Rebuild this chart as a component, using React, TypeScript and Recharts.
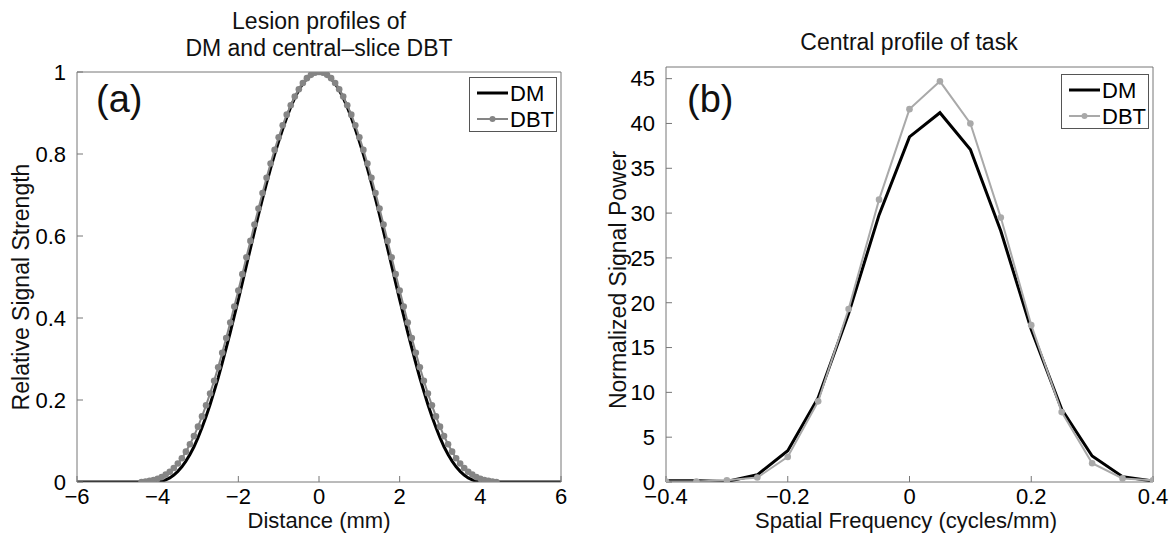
import { LineChart, Line, XAxis, YAxis, Legend } from 'recharts'

const W = 1169
const H = 533
const FONT = '"Liberation Sans", Arial, Helvetica, sans-serif'
const TEXT_SIZE = 23
const TICK_SIZE = 22
const AXIS = '#777'
const BLACK = '#000'
const GRAY_A = '#858585'
const GRAY_B = '#a9a9a9'

// (a) lesion profiles, sampled every 0.1 mm
const STEP_MM = 0.1
const DM_START = -6
const DM_PROFILE = [
  0, 0, 0, 0, 0, 0, 0, 0, 0, 0,
  0, 0, 0, 0, 0, 0, 0, 0, 0, 0,
  0.001, 0.002, 0.005, 0.01, 0.017, 0.026, 0.037, 0.051, 0.067, 0.086,
  0.108, 0.133, 0.16, 0.189, 0.221, 0.254, 0.29, 0.327, 0.365, 0.405,
  0.445, 0.486, 0.528, 0.57, 0.611, 0.652, 0.691, 0.729, 0.765, 0.799,
  0.831, 0.861, 0.889, 0.915, 0.937, 0.956, 0.972, 0.984, 0.993, 0.998,
  1.0,
  0.998, 0.993, 0.984, 0.972, 0.956, 0.937, 0.915, 0.889, 0.861, 0.831,
  0.799, 0.765, 0.729, 0.691, 0.652, 0.611, 0.57, 0.528, 0.486, 0.445,
  0.405, 0.365, 0.327, 0.29, 0.254, 0.221, 0.189, 0.16, 0.133, 0.108,
  0.086, 0.067, 0.051, 0.037, 0.026, 0.017, 0.01, 0.005, 0.002, 0.001,
  0, 0, 0, 0, 0, 0, 0, 0, 0, 0,
  0, 0, 0, 0, 0, 0, 0, 0, 0, 0,
]
const DBT_START = -4.4
const DBT_PROFILE = [
  0, 0.001, 0.003, 0.005, 0.008, 0.012, 0.018, 0.025, 0.034, 0.045,
  0.058, 0.074, 0.092, 0.112, 0.135, 0.16, 0.187, 0.216, 0.247, 0.28,
  0.315, 0.351, 0.389, 0.428, 0.467, 0.507, 0.548, 0.588, 0.628, 0.667,
  0.705, 0.742, 0.777, 0.81, 0.841, 0.87, 0.896, 0.919, 0.94, 0.958,
  0.973, 0.985, 0.993, 0.998,
  1.0,
  0.998, 0.993, 0.985, 0.973, 0.958, 0.94, 0.919, 0.896, 0.87, 0.841,
  0.81, 0.777, 0.742, 0.705, 0.667, 0.628, 0.588, 0.548, 0.507, 0.467,
  0.428, 0.389, 0.351, 0.315, 0.28, 0.247, 0.216, 0.187, 0.16, 0.135,
  0.112, 0.092, 0.074, 0.058, 0.045, 0.034, 0.025, 0.018, 0.012, 0.008,
  0.005, 0.003, 0.001, 0,
]
const DISTANCE_TICKS = [-6, -4, -2, 0, 2, 4, 6]
const STRENGTH_TICKS = [0, 0.2, 0.4, 0.6, 0.8, 1]

// (b) central profile of the task
const FREQ = [-0.4, -0.35, -0.3, -0.25, -0.2, -0.15, -0.1, -0.05, 0, 0.05, 0.1, 0.15, 0.2, 0.25, 0.3, 0.35, 0.4]
const DM_POWER = [0.15, 0.15, 0.05, 0.8, 3.5, 9.4, 18.8, 29.8, 38.5, 41.2, 37.1, 28.0, 17.0, 8.1, 2.9, 0.6, 0.1]
const DBT_POWER = [0.05, 0.05, 0.2, 0.5, 2.8, 9.0, 19.3, 31.5, 41.6, 44.7, 40.0, 29.5, 17.5, 7.8, 2.1, 0.4, 0.2]
const FREQ_TICKS = [-0.4, -0.2, 0, 0.2, 0.4]
const POWER_TICKS = [0, 5, 10, 15, 20, 25, 30, 35, 40, 45]

const sampled = (start: number, values: number[]) =>
  values.map((y, i) => ({ x: Math.round((start + i * STEP_MM) * 10) / 10, y }))

const paired = (xs: number[], ys: number[]) => xs.map((x, i) => ({ x, y: ys[i] }))

const minus = (v: number) => String(v).replace('-', '\u2212')

type Series = { name: string; data: { x: number; y: number }[]; color: string; width: number; dots: boolean }
type Box = { left: number; top: number; right: number; bottom: number }

function LegendBox({ items, width, height }: { items: Series[]; width: number; height: number }) {
  return (
    <svg width={width} height={height} style={{ display: 'block' }}>
      <rect x={0.5} y={0.5} width={width - 1} height={height - 1} fill="#fff" stroke="#555" />
      {items.map((s, i) => {
        const cy = 16 + i * 26
        return (
          <g key={s.name}>
            <line x1={8} x2={39} y1={cy} y2={cy} stroke={s.color} strokeWidth={s.width} />
            {s.dots && <circle cx={23.5} cy={cy} r={3} fill={s.color} />}
            <text x={41} y={cy + 8} fontSize={22} fontFamily={FONT} fill="#000">{s.name}</text>
          </g>
        )
      })}
    </svg>
  )
}

// axes are 1px thick so Recharts still draws them; the plot box sits inside them
function Panel(props: {
  box: Box
  xDomain: [number, number]
  yDomain: [number, number]
  xTicks: number[]
  yTicks: number[]
  series: Series[]
  legend: { left: number; top: number; width: number; height: number }
}) {
  const { box, xDomain, yDomain, xTicks, yTicks, series, legend } = props
  const tickStyle = { fill: '#000', fontSize: TICK_SIZE, fontFamily: FONT }
  return (
    <div style={{ position: 'absolute', left: 0, top: 0 }}>
      <LineChart
        width={W}
        height={H}
        margin={{ left: box.left - 1, top: box.top - 1, right: W - box.right - 1, bottom: H - box.bottom - 1 }}
      >
        <XAxis xAxisId="b" type="number" dataKey="x" domain={xDomain} ticks={xTicks} interval={0}
          allowDataOverflow height={1} stroke={AXIS} tickSize={-6} tickMargin={12}
          tick={tickStyle} tickFormatter={minus} />
        <XAxis xAxisId="t" orientation="top" type="number" dataKey="x" domain={xDomain} ticks={xTicks}
          interval={0} allowDataOverflow height={1} stroke={AXIS} tickSize={-6} tick={false} />
        <YAxis yAxisId="l" type="number" domain={yDomain} ticks={yTicks} interval={0}
          allowDataOverflow width={1} stroke={AXIS} tickSize={-6} tickMargin={17}
          tick={tickStyle} tickFormatter={minus} />
        <YAxis yAxisId="r" orientation="right" type="number" domain={yDomain} ticks={yTicks}
          interval={0} allowDataOverflow width={1} stroke={AXIS} tickSize={-6} tick={false} />
        {series.map((s) => (
          <Line
            key={s.name}
            xAxisId="b"
            yAxisId="l"
            data={s.data}
            dataKey="y"
            name={s.name}
            type="linear"
            stroke={s.color}
            strokeWidth={s.width}
            dot={s.dots ? { r: 3.3, fill: s.color, stroke: s.color, strokeWidth: 0 } : false}
            activeDot={false}
            isAnimationActive={false}
          />
        ))}
        <Legend
          layout="vertical"
          align="center"
          verticalAlign="middle"
          wrapperStyle={{ left: legend.left, top: legend.top, width: legend.width, height: legend.height }}
          content={() => <LegendBox items={series} width={legend.width} height={legend.height} />}
        />
      </LineChart>
    </div>
  )
}

function Label({ x, y, text, size = TEXT_SIZE, rotate = false, anchor = 'center' }:
  { x: number; y: number; text: string; size?: number; rotate?: boolean; anchor?: 'center' | 'left' }) {
  return (
    <div
      style={{
        position: 'absolute',
        left: x,
        top: y,
        transform: `translate(${anchor === 'center' ? '-50%' : '0'}, -50%)${rotate ? ' rotate(-90deg)' : ''}`,
        fontFamily: FONT,
        fontSize: size,
        lineHeight: 1,
        whiteSpace: 'nowrap',
        color: '#111',
      }}
    >
      {text}
    </div>
  )
}

export default function App() {
  const lesionSeries: Series[] = [
    { name: 'DM', data: sampled(DM_START, DM_PROFILE), color: BLACK, width: 3, dots: false },
    { name: 'DBT', data: sampled(DBT_START, DBT_PROFILE), color: GRAY_A, width: 2, dots: true },
  ]
  const taskSeries: Series[] = [
    { name: 'DM', data: paired(FREQ, DM_POWER), color: BLACK, width: 3, dots: false },
    { name: 'DBT', data: paired(FREQ, DBT_POWER), color: GRAY_B, width: 2, dots: true },
  ]

  return (
    <div style={{ position: 'absolute', left: 0, top: 0, width: W, height: H, background: '#fff', overflow: 'hidden' }}>
      <Panel
        box={{ left: 77, top: 72, right: 561, bottom: 482 }}
        xDomain={[-6, 6]}
        yDomain={[0, 1]}
        xTicks={DISTANCE_TICKS}
        yTicks={STRENGTH_TICKS}
        series={lesionSeries}
        legend={{ left: 469, top: 77, width: 88, height: 55 }}
      />
      <Panel
        box={{ left: 666, top: 67, right: 1153, bottom: 482 }}
        xDomain={[-0.4, 0.4]}
        yDomain={[0, 46.3]}
        xTicks={FREQ_TICKS}
        yTicks={POWER_TICKS}
        series={taskSeries}
        legend={{ left: 1061, top: 74, width: 88, height: 55 }}
      />

      <Label x={319} y={21} text="Lesion profiles of" />
      <Label x={319} y={48} text={'DM and central\u2013slice DBT'} />
      <Label x={909} y={42} text="Central profile of task" />

      <Label x={96} y={99} text="(a)" size={38} anchor="left" />
      <Label x={687} y={99} text="(b)" size={38} anchor="left" />

      <Label x={319} y={521} text="Distance (mm)" size={22} />
      <Label x={906} y={521} text="Spatial Frequency (cycles/mm)" size={22} />
      <Label x={21} y={287} text="Relative Signal Strength" rotate />
      <Label x={618} y={280} text="Normalized Signal Power" rotate />
    </div>
  )
}
